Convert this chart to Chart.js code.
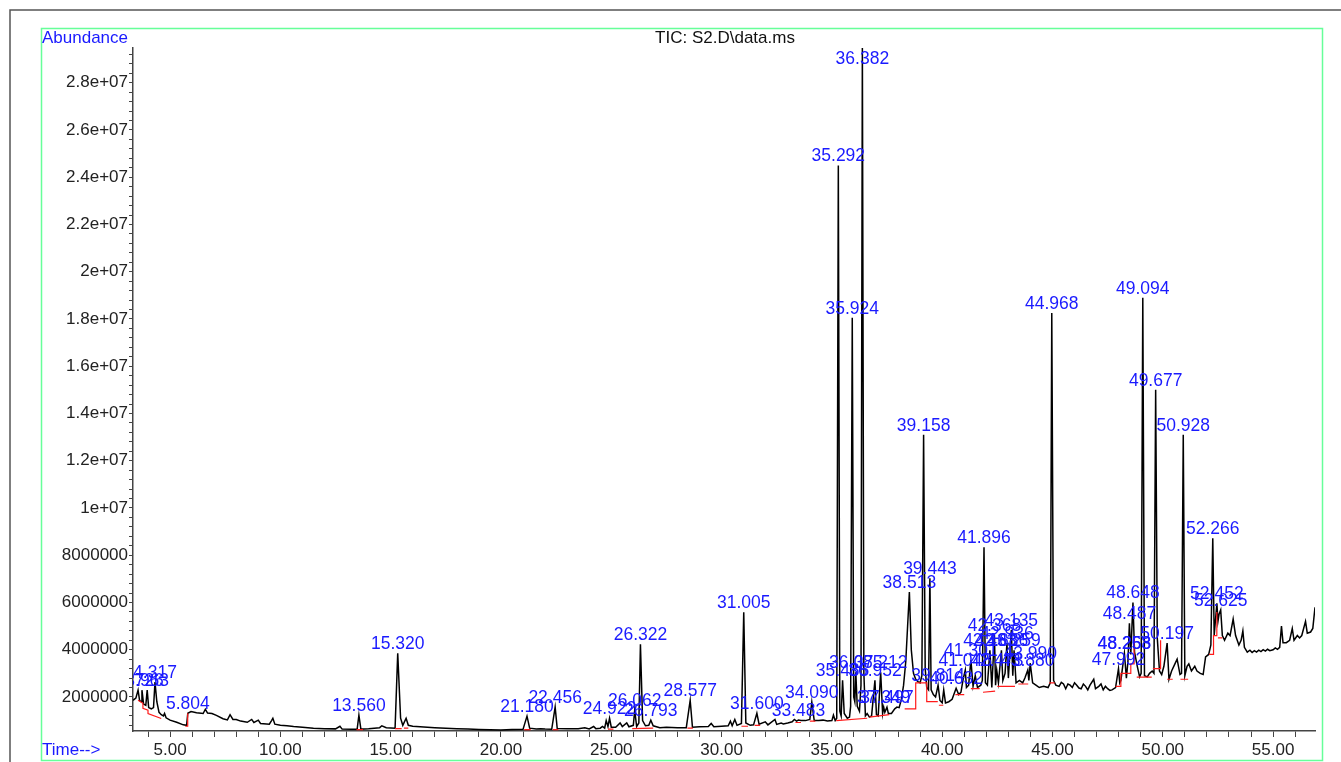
<!DOCTYPE html>
<html>
<head>
<meta charset="utf-8">
<script src="https://cdn.jsdelivr.net/npm/chart.js@4"></script>
<style>
  html, body { margin: 0; padding: 0; background: #fff; }
  #wrap { width: 1341px; height: 762px; position: relative; }
</style>
</head>
<body>
<div id="wrap"><canvas id="tic" width="1341" height="762"></canvas></div>
<script>
// retention time (min) and abundance
const times = [3.32,3.45,3.55,3.62,3.70,3.726,3.80,3.90,3.963,4.03,4.15,4.25,4.317,4.40,4.50,4.60,4.70,4.75,4.82,5.0,5.3,5.6,5.75,5.804,5.95,6.2,6.5,6.6,6.7,6.9,7.1,7.4,7.6,7.72,7.85,8.0,8.2,8.5,8.7,8.8,9.0,9.1,9.5,9.6,9.66,9.75,10.0,10.3,10.6,11.0,11.5,12.0,12.5,12.7,12.8,13.2,13.48,13.56,13.65,14.0,14.5,14.6,14.8,15.2,15.32,15.45,15.55,15.7,15.8,16.0,16.5,17.0,17.5,18.0,18.5,19.0,19.5,20.0,20.5,21.0,21.18,21.3,21.6,21.8,22.0,22.3,22.456,22.55,23.0,23.5,23.8,24.0,24.2,24.3,24.5,24.6,24.7,24.77,24.85,24.922,25.0,25.2,25.4,25.5,25.7,25.8,26.0,26.062,26.15,26.25,26.322,26.42,26.55,26.7,26.793,26.9,27.2,27.5,28.0,28.4,28.577,28.68,29.0,29.4,29.53,29.65,30.0,30.3,30.4,30.48,30.6,30.7,30.9,31.005,31.1,31.3,31.45,31.6,31.7,31.98,32.1,32.42,32.5,32.7,32.8,33.0,33.2,33.3,33.4,33.483,33.6,33.8,34.0,34.09,34.2,34.4,34.6,34.8,35.0,35.07,35.15,35.22,35.292,35.36,35.42,35.485,35.56,35.7,35.8,35.85,35.924,35.99,36.04,36.085,36.15,36.25,36.32,36.382,36.45,36.52,36.6,36.7,36.8,36.952,37.02,37.1,37.212,37.3,37.349,37.4,37.497,37.56,37.7,37.85,37.95,38.05,38.15,38.25,38.35,38.513,38.6,38.7,38.8,38.9,39.0,39.08,39.158,39.23,39.3,39.38,39.443,39.5,39.6,39.7,39.814,39.9,40.0,40.07,40.15,40.3,40.45,40.632,40.75,40.85,40.95,41.048,41.1,41.2,41.301,41.4,41.5,41.6,41.75,41.82,41.896,41.96,42.05,42.163,42.25,42.368,42.42,42.473,42.55,42.686,42.75,42.85,42.936,43.0,43.135,43.2,43.259,43.35,43.5,43.65,43.75,43.88,43.93,43.99,44.1,44.25,44.4,44.6,44.8,44.9,44.968,45.05,45.15,45.3,45.4,45.5,45.6,45.7,45.8,45.9,46.0,46.1,46.2,46.3,46.4,46.5,46.6,46.7,46.87,46.95,47.1,47.2,47.3,47.4,47.5,47.6,47.7,47.86,47.992,48.05,48.1,48.26,48.35,48.42,48.487,48.55,48.648,48.72,48.84,48.95,49.02,49.094,49.17,49.3,49.4,49.52,49.6,49.677,49.75,49.85,49.95,50.05,50.197,50.28,50.4,50.55,50.65,50.78,50.85,50.928,51.0,51.1,51.18,51.3,51.45,51.55,51.7,51.83,51.94,52.08,52.18,52.266,52.33,52.452,52.5,52.55,52.625,52.7,52.8,52.95,53.05,53.19,53.3,53.45,53.55,53.63,53.7,53.83,53.95,54.05,54.15,54.25,54.35,54.45,54.55,54.65,54.75,54.85,55.0,55.1,55.2,55.3,55.38,55.45,55.6,55.75,55.87,55.95,56.1,56.2,56.3,56.47,56.55,56.7,56.8,56.9];
const abundance = [1.86e6,1.95e6,2.29e6,1.85e6,1.80e6,2.29e6,1.70e6,1.65e6,2.29e6,1.55e6,1.50e6,1.55e6,2.63e6,1.80e6,1.35e6,1.25e6,1.20e6,1.30e6,1.12e6,1.02e6,0.93e6,0.82e6,0.80e6,1.31e6,1.38e6,1.33e6,1.30e6,1.48e6,1.32e6,1.30e6,1.22e6,1.08e6,1.03e6,1.25e6,1.05e6,1.05e6,0.98e6,0.93e6,1.05e6,0.92e6,1.02e6,0.88e6,0.85e6,1.00e6,1.10e6,0.85e6,0.80e6,0.78e6,0.75e6,0.72e6,0.68e6,0.66e6,0.65e6,0.76e6,0.64e6,0.63e6,0.63e6,1.23e6,0.64e6,0.66e6,0.70e6,0.78e6,0.70e6,0.68e6,3.85e6,1.10e6,0.80e6,1.10e6,0.80e6,0.76e6,0.73e6,0.70e6,0.68e6,0.66e6,0.64e6,0.62e6,0.61e6,0.60e6,0.62e6,0.63e6,1.19e6,0.68e6,0.64e6,0.66e6,0.64e6,0.63e6,1.57e6,0.66e6,0.65e6,0.66e6,0.70e6,0.65e6,0.75e6,0.66e6,0.68e6,0.75e6,0.68e6,1.00e6,0.75e6,1.10e6,0.72e6,0.72e6,0.90e6,0.75e6,0.90e6,0.74e6,0.80e6,1.44e6,0.75e6,0.90e6,4.23e6,1.00e6,0.78e6,0.80e6,1.02e6,0.78e6,0.70e6,0.72e6,0.70e6,0.70e6,1.86e6,0.72e6,0.74e6,0.75e6,0.88e6,0.74e6,0.76e6,0.78e6,0.98e6,0.78e6,1.05e6,0.80e6,0.88e6,5.59e6,0.90e6,0.80e6,0.82e6,1.31e6,0.85e6,0.95e6,0.82e6,1.05e6,0.84e6,0.90e6,0.86e6,0.90e6,0.95e6,1.05e6,0.98e6,1.02e6,1.00e6,1.00e6,1.05e6,1.78e6,1.00e6,1.00e6,1.02e6,0.98e6,1.00e6,1.23e6,1.00e6,1.10e6,24.5e6,1.40e6,1.20e6,2.71e6,1.30e6,1.10e6,1.15e6,1.60e6,18.05e6,2.00e6,1.80e6,3.05e6,1.60e6,1.40e6,2.50e6,29.6e6,3.00e6,1.20e6,1.30e6,1.15e6,1.20e6,2.71e6,1.25e6,1.20e6,3.05e6,1.30e6,1.57e6,1.35e6,1.57e6,1.30e6,1.30e6,1.50e6,1.57e6,1.55e6,1.90e6,2.50e6,3.50e6,6.44e6,4.00e6,3.00e6,2.75e6,2.65e6,2.60e6,2.90e6,13.1e6,3.20e6,2.40e6,2.30e6,7.03e6,2.30e6,2.10e6,2.00e6,2.50e6,1.85e6,1.75e6,2.30e6,1.75e6,1.80e6,1.90e6,2.37e6,2.10e6,2.20e6,2.75e6,3.14e6,2.40e6,2.50e6,3.56e6,2.45e6,2.90e6,2.40e6,2.50e6,2.70e6,8.34e6,2.60e6,2.50e6,3.98e6,2.40e6,4.62e6,2.50e6,3.14e6,2.60e6,3.98e6,2.70e6,3.00e6,4.28e6,2.80e6,4.83e6,2.90e6,3.98e6,2.60e6,2.70e6,2.60e6,2.80e6,3.14e6,2.70e6,3.43e6,2.60e6,2.50e6,2.40e6,2.45e6,2.40e6,2.60e6,18.25e6,2.70e6,2.50e6,2.45e6,2.62e6,2.55e6,2.35e6,2.55e6,2.50e6,2.40e6,2.60e6,2.50e6,2.38e6,2.35e6,2.55e6,2.45e6,2.30e6,2.50e6,2.75e6,2.35e6,2.45e6,2.55e6,2.30e6,2.45e6,2.35e6,2.28e6,2.30e6,2.40e6,3.20e6,2.60e6,2.70e6,3.85e6,2.80e6,3.50e6,5.12e6,3.80e6,6.00e6,3.90e6,3.32e6,2.85e6,3.00e6,18.9e6,2.90e6,2.85e6,3.00e6,3.10e6,3.00e6,15.0e6,4.50e6,3.10e6,2.95e6,3.30e6,4.28e6,2.75e6,3.10e6,3.40e6,3.60e6,2.95e6,3.00e6,13.1e6,2.90e6,3.30e6,3.40e6,3.10e6,3.30e6,3.10e6,3.00e6,2.95e6,3.70e6,3.80e6,4.20e6,8.72e6,4.60e6,5.97e6,5.20e6,5.50e6,5.68e6,4.60e6,4.40e6,4.70e6,4.60e6,5.30e6,4.60e6,4.20e6,4.40e6,4.80e6,4.10e6,3.90e6,3.98e6,3.88e6,3.96e6,3.90e6,3.98e6,3.92e6,4.00e6,3.94e6,4.02e6,3.96e6,4.00e6,4.08e6,4.02e6,4.10e6,5.00e6,4.30e6,4.30e6,4.40e6,4.90e6,4.40e6,4.60e6,4.50e6,4.60e6,5.20e6,4.70e6,4.75e6,4.90e6,5.80e6];

// integration baselines (red), null = break
const baseTimes = [3.55,3.77,3.77,4.0,4.0,4.6,null,5.69,5.80,5.80,null,13.45,13.75,null,15.2,15.5,null,15.6,15.8,null,21.05,21.35,null,22.35,22.6,null,24.85,25.1,null,25.95,26.9,null,28.45,28.7,null,30.9,31.2,null,31.5,31.75,null,33.35,33.6,null,34.0,34.25,null,35.2,36.6,null,36.7,37.6,null,38.3,38.8,38.8,39.3,39.3,39.8,null,39.85,40.05,null,40.6,41.0,null,41.3,41.7,null,41.85,42.4,null,42.5,43.3,null,43.45,43.9,null,44.85,45.1,null,47.86,48.1,48.1,48.55,48.55,48.7,48.7,null,48.82,49.5,null,49.55,49.9,49.9,null,50.2,50.45,null,50.8,51.15,null,52.1,52.3,52.3,52.45,52.45,null,52.5,52.7];
const baseValues = [1.86e6,1.73e6,1.52e6,1.44e6,1.30e6,1.09e6,null,0.76e6,0.76e6,1.31e6,null,0.62e6,0.62e6,null,0.66e6,0.66e6,null,0.68e6,0.68e6,null,0.62e6,0.62e6,null,0.62e6,0.62e6,null,0.64e6,0.64e6,null,0.66e6,0.68e6,null,0.68e6,0.68e6,null,0.76e6,0.76e6,null,0.80e6,0.80e6,null,0.92e6,0.92e6,null,0.98e6,0.98e6,null,1.0e6,1.1e6,null,1.15e6,1.25e6,null,1.5e6,1.5e6,2.6e6,2.6e6,1.8e6,1.8e6,null,1.65e6,1.65e6,null,2.1e6,2.1e6,null,2.35e6,2.35e6,null,2.2e6,2.25e6,null,2.45e6,2.45e6,null,2.55e6,2.55e6,null,2.6e6,2.6e6,null,2.45e6,2.45e6,3.0e6,3.0e6,3.4e6,3.4e6,4.5e6,null,2.84e6,2.84e6,null,3.2e6,3.2e6,4.4e6,null,2.75e6,2.75e6,null,2.75e6,2.75e6,null,3.8e6,3.8e6,4.6e6,4.6e6,5.6e6,null,4.5e6,4.5e6];

// peak labels: retention time and apex abundance
const peakTimes = [3.726,3.963,4.317,5.804,13.560,15.320,21.180,22.456,24.922,26.062,26.322,26.793,28.577,31.005,31.600,33.483,34.090,35.292,35.485,35.924,36.085,36.382,36.952,37.212,37.349,37.497,38.513,39.158,39.443,39.814,40.632,41.048,41.301,41.896,42.163,42.368,42.473,42.686,42.936,43.135,43.259,43.880,43.990,44.968,47.992,48.253,48.268,48.487,48.648,49.094,49.677,50.197,50.928,52.266,52.452,52.625];
const peakHeights = [2.29e6,2.29e6,2.63e6,1.31e6,1.23e6,3.85e6,1.19e6,1.57e6,1.10e6,1.44e6,4.23e6,1.02e6,1.86e6,5.59e6,1.31e6,1.02e6,1.78e6,24.5e6,2.71e6,18.05e6,3.05e6,29.6e6,2.71e6,3.05e6,1.57e6,1.57e6,6.44e6,13.1e6,7.03e6,2.5e6,2.37e6,3.14e6,3.56e6,8.34e6,3.98e6,4.62e6,3.14e6,3.98e6,4.28e6,4.83e6,3.98e6,3.14e6,3.43e6,18.25e6,3.2e6,3.85e6,3.85e6,5.12e6,6.0e6,18.9e6,15.0e6,4.28e6,13.1e6,8.72e6,5.97e6,5.68e6];

const xTicks = [];
for (let m = 4; m <= 56; m++) xTicks.push(m);
const yTicks = [];
for (let k = 2; k <= 73; k++) yTicks.push(k * 400000);

const FONT = 'Liberation Sans, Arial, sans-serif';

const decor = {
  id: 'decor',
  afterDraw(chart) {
    const ctx = chart.ctx, a = chart.chartArea;
    const xs = chart.scales.x, ys = chart.scales.y;
    ctx.save();
    // outer gray border and green frame
    ctx.strokeStyle = '#555';
    ctx.lineWidth = 1.5;
    ctx.beginPath();
    ctx.moveTo(10, 762); ctx.lineTo(10, 10); ctx.lineTo(1341, 10);
    ctx.stroke();
    ctx.strokeStyle = '#66ff99';
    ctx.lineWidth = 1.5;
    ctx.strokeRect(41.5, 28.5, 1281, 732);

    ctx.font = '17px ' + FONT;
    ctx.textBaseline = 'middle';
    ctx.fillStyle = '#1a1aff';
    ctx.textAlign = 'left';
    ctx.fillText('Abundance', 42, 38);
    ctx.fillText('Time-->', 42, 750);
    ctx.fillStyle = '#111';
    ctx.textAlign = 'center';
    ctx.fillText('TIC: S2.D\\data.ms', 725, 38);

    // peak labels
    ctx.beginPath();
    ctx.rect(a.left, a.top - 12, a.right - a.left, a.bottom - a.top + 12);
    ctx.clip();
    ctx.font = '17.5px ' + FONT;
    ctx.fillStyle = '#1a1aff';
    ctx.textBaseline = 'alphabetic';
    ctx.textAlign = 'center';
    peakTimes.forEach((t, i) => {
      const px = xs.getPixelForValue(t);
      const py = Math.max(ys.getPixelForValue(peakHeights[i]) - 4, a.top + 16);
      ctx.fillText(t.toFixed(3), px, py);
    });
    ctx.restore();
  }
};

new Chart(document.getElementById('tic'), {
  type: 'line',
  data: {
    datasets: [
      {
        data: baseTimes.map((t, i) => ({ x: t, y: baseValues[i] })),
        borderColor: '#ff1a1a',
        borderWidth: 1.2,
        spanGaps: false
      },
      {
        data: times.map((t, i) => ({ x: t, y: abundance[i] })),
        borderColor: '#000',
        borderWidth: 1.5
      }
    ]
  },
  options: {
    responsive: false,
    animation: false,
    layout: { padding: { left: 0, right: 26, top: 48, bottom: 0 } },
    elements: { point: { radius: 0 }, line: { tension: 0 } },
    plugins: { legend: { display: false }, tooltip: { enabled: false } },
    scales: {
      x: {
        type: 'linear',
        min: 3.32,
        max: 56.9,
        afterBuildTicks: s => { s.ticks = xTicks.map(v => ({ value: v })); },
        afterFit: s => { s.height = 31; },
        ticks: {
          autoSkip: false,
          maxRotation: 0,
          padding: 3,
          color: '#222',
          font: { family: FONT, size: 17 },
          callback: v => (v % 5 === 0 ? v.toFixed(2) : '')
        },
        grid: { drawOnChartArea: false, drawTicks: true, tickLength: 6, color: '#444' },
        border: { display: true, color: '#444', width: 1.5 }
      },
      y: {
        min: 560000,
        max: 29470000,
        afterBuildTicks: s => { s.ticks = yTicks.map(v => ({ value: v })); },
        afterFit: s => { s.width = 133; },
        ticks: {
          autoSkip: false,
          padding: 1,
          color: '#222',
          font: { family: FONT, size: 17 },
          callback: v => {
            if (v % 2000000 !== 0) return '';
            if (v >= 1e7) return (+(v / 1e7).toFixed(1)) + 'e+07';
            return String(v);
          }
        },
        grid: { drawOnChartArea: false, drawTicks: true, tickLength: 4, color: '#444' },
        border: { display: true, color: '#444', width: 1.5 }
      }
    }
  },
  plugins: [decor]
});
</script>
</body>
</html>
